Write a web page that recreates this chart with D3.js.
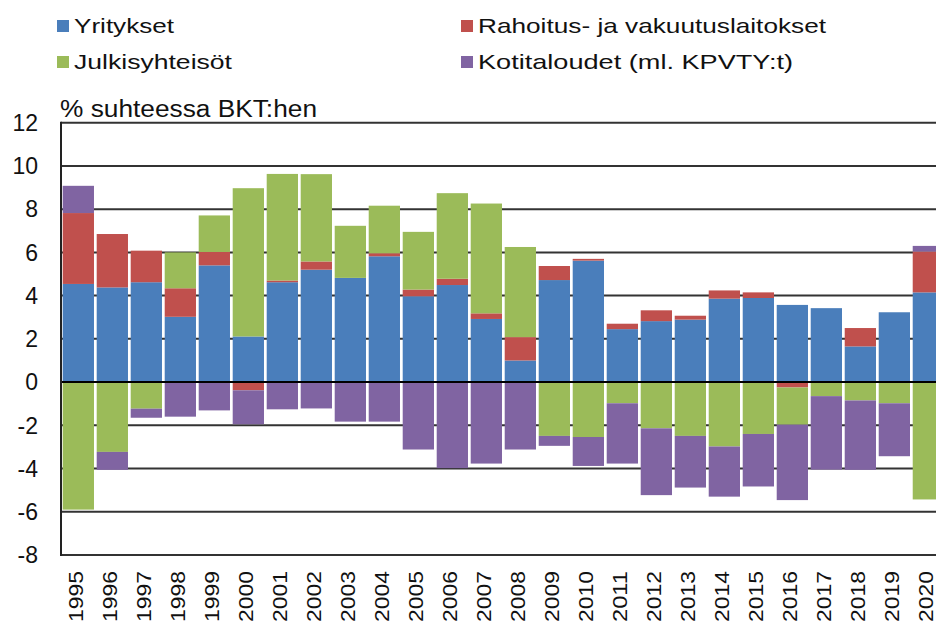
<!DOCTYPE html>
<html><head><meta charset="utf-8">
<script src="https://cdn.jsdelivr.net/npm/d3@7"></script>
<style>body{margin:0;background:#fff}svg{display:block}text{font-family:"Liberation Sans",Arial,sans-serif;fill:#111}</style>
</head><body>
<svg id="c" width="936" height="629"></svg>
<script>
const years = [1995,1996,1997,1998,1999,2000,2001,2002,2003,2004,2005,2006,2007,2008,2009,2010,2011,2012,2013,2014,2015,2016,2017,2018,2019,2020];
const yritykset = [4.54,4.38,4.62,3.02,5.40,2.11,4.62,5.20,4.82,5.82,3.97,4.49,2.92,1.00,4.72,5.62,2.45,2.82,2.89,3.86,3.89,3.57,3.42,1.65,3.23,4.15];
const rahoitus = [3.28,2.47,1.46,1.32,0.62,-0.38,0.08,0.38,0,0.14,0.31,0.29,0.26,1.08,0.65,0.08,0.25,0.50,0.18,0.38,0.26,-0.25,0,0.85,0,1.89];
const julkis = [-5.90,-3.23,-1.23,1.66,1.69,6.86,4.93,4.04,2.41,2.20,2.67,3.96,5.08,4.17,-2.49,-2.54,-0.98,-2.14,-2.49,-2.98,-2.40,-1.72,-0.65,-0.85,-0.98,-5.43];
const kotitaloudet = [1.26,-0.83,-0.42,-1.60,-1.31,-1.57,-1.26,-1.22,-1.83,-1.83,-3.12,-3.98,-3.77,-3.12,-0.46,-1.34,-2.79,-3.09,-2.39,-2.32,-2.43,-3.49,-3.40,-3.21,-2.45,0.26];
const seriesNames = ["Yritykset","Rahoitus- ja vakuutuslaitokset","Julkisyhteisöt","Kotitaloudet (ml. KPVTY:t)"];
const seriesColors = ["#4a7ebb","#c0504d","#9bbb59","#8064a2"];
const yTicks = [-8,-6,-4,-2,0,2,4,6,8,10,12];
const yLabel = "% suhteessa BKT:hen";

const svg = d3.select("#c");
const keys = ["y","r","j","k"];
const table = years.map((yr,i)=>({year:yr,y:yritykset[i],r:rahoitus[i],j:julkis[i],k:kotitaloudet[i]}));
const stack = d3.stack().keys(keys).offset(d3.stackOffsetDiverging)(table);

const x = d3.scaleBand().domain(years).range([61,945.7]).paddingInner(0.08).paddingOuter(0.05);
const y = d3.scaleLinear().domain([-8,12]).range([555,122.7]);

// gridlines
svg.append("g").selectAll("line").data(yTicks).join("line")
  .attr("x1",61).attr("x2",936).attr("y1",d=>y(d)).attr("y2",d=>y(d))
  .attr("stroke",d=>d===0?"#000":"#333").attr("stroke-width",2);

// bars
svg.append("g").selectAll("g").data(stack).join("g")
  .attr("fill",(d,i)=>seriesColors[i])
  .selectAll("rect").data(d=>d).join("rect")
  .attr("x",d=>x(d.data.year)).attr("width",x.bandwidth())
  .attr("y",d=>y(Math.max(d[0],d[1]))).attr("height",d=>Math.abs(y(d[0])-y(d[1])));

// zero line on top
svg.append("line").attr("x1",61).attr("x2",936).attr("y1",y(0)).attr("y2",y(0)).attr("stroke","#000").attr("stroke-width",2);
// left axis
svg.append("line").attr("x1",61).attr("x2",61).attr("y1",y(12)-1).attr("y2",y(-8)+1).attr("stroke","#222").attr("stroke-width",2);

// y tick labels
svg.append("g").selectAll("text").data(yTicks).join("text")
  .attr("x",38).attr("y",d=>y(d)).attr("dy","0.36em").attr("text-anchor","end")
  .attr("font-size",23).text(d=>d);

// x tick labels
svg.append("g").selectAll("text").data(years).join("text")
  .attr("transform",d=>`translate(${x(d)+x.bandwidth()/2+4.5},571) rotate(-90)`)
  .attr("text-anchor","end").attr("font-size",20.5)
  .attr("textLength",51).attr("lengthAdjust","spacingAndGlyphs").text(d=>d);

// y axis title
svg.append("text").attr("x",60).attr("y",116.5).attr("font-size",23)
  .attr("textLength",257).attr("lengthAdjust","spacingAndGlyphs").text(yLabel);

// legend
const legPos = [[57,20,100],[461,20,348],[57,56,158],[461,56,315]];
const leg = svg.append("g");
seriesNames.forEach((n,i)=>{
  const [lx,ly,tl] = legPos[i];
  leg.append("rect").attr("x",lx).attr("y",ly).attr("width",12).attr("height",12).attr("fill",seriesColors[i]);
  leg.append("text").attr("x",lx+17).attr("y",ly+12.5).attr("font-size",21)
    .attr("textLength",tl).attr("lengthAdjust","spacingAndGlyphs").text(n);
});
</script>
</body></html>
